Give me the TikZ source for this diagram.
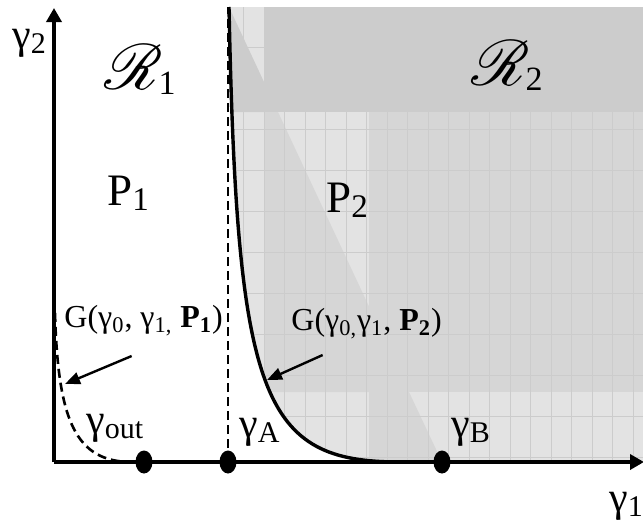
\documentclass[tikz,border=0pt]{standalone}
\usepackage{fontspec}
\setmainfont{Liberation Serif}
\usepackage{mathrsfs}
\usepackage{graphicx}
\usetikzlibrary{arrows.meta,shapes.geometric}
\definecolor{shadelight}{gray}{0.89}
\definecolor{shademid}{gray}{0.84}
\definecolor{shadetop}{gray}{0.80}
\definecolor{gridgray}{gray}{0.80}
\newcommand{\low}[2]{\raisebox{-2.5pt}{\fontsize{#1}{#1}\selectfont #2}}
\newcommand{\glab}[1]{{\fontsize{21}{24}\selectfont γ\low{15}{#1}}}
\newcommand{\plab}[1]{{\fontsize{22.5}{26}\selectfont P\low{16.5}{#1}}}
\newcommand{\rlab}[1]{\scalebox{3.2}{$\mathscr{R}$}\kern-2pt\low{17}{#1}}

\begin{document}
\begin{tikzpicture}[
  x=0.5pt,y=-0.5pt,
  axis/.style={line width=1.8pt,-{Triangle[length=7pt,width=7.5pt]}},
  bound/.style={line width=1.7pt},
  dashbound/.style={line width=1.3pt,dash pattern=on 4.5pt off 2.5pt},
  ann/.style={line width=1.2pt,-{Triangle[length=7.5pt,width=6pt]}},
  dot/.style={ellipse,fill=black,inner sep=0pt,minimum width=8.5pt,minimum height=11.5pt},
  gridline/.style={gridgray,line width=0.4pt},
  lab/.style={inner sep=0pt,anchor=base west},
  glabel/.style={lab,font=\fontsize{16}{19}\selectfont}
]
\useasboundingbox (0,0) rectangle (643,525);
% shaded region P2
\begin{scope}
\clip (229,7) .. controls (237,400) and (262,462) .. (400,462) -- (650,462) -- (650,7) -- cycle;
\fill[shadelight] (229,7) rectangle (650,462);
\fill[shademid] (369,112) rectangle (650,392);
\fill[shademid] (264,112) -- (278,112) -- (409,392) -- (264,392) -- cycle;
\fill[shademid] (369,392) -- (409,392) -- (442,462) -- (369,462) -- cycle;
\fill[shadetop] (264,7) rectangle (650,112);
\fill[shadetop] (229,7) -- (264,82) -- (264,112) -- (229,112) -- cycle;
\foreach \gx in {0,...,19}
  \draw[gridline] (243.5+20.5*\gx,7) -- ++(0,455);
\foreach \gy in {47,88,...,457}
  \draw[gridline] (229,\gy) -- (650,\gy);
\end{scope}

\coordinate (O) at (54,462);
\coordinate (ytop) at (54,8);
\coordinate (xend) at (644,462);
\coordinate (atop) at (228,7);
\coordinate (btop) at (229,7);
\coordinate (p1start) at (55,313);
\coordinate (p1end) at (132,462);
\coordinate (p2end) at (400,462);
\coordinate (tip1) at (65,384);
\coordinate (tip2) at (267,380);

\draw[dashbound] (p1start) .. controls (58,420) and (75,462) .. (p1end);
\draw[bound] (btop) .. controls (237,400) and (262,462) .. (p2end);
\draw[axis] (O) -- (ytop);
\draw[axis] (O) -- (xend);

\node[dot] (dout) at (144,462) {};
\node[dot] (da) at (228,462) {};
\node[dot] (db) at (442,462) {};
\draw[dashbound] (da.center) -- (atop);

\node[lab] (y2) at (12,48) {\glab{2}};
\node[lab] (y1) at (609,511) {\glab{1}};
\node[lab] (gout) at (86,433) {\glab{out}};
\node[lab] (ga) at (239,437) {\glab{A}};
\node[lab] (gb) at (451,437) {\glab{B}};
\node[lab] (pp1) at (107,205) {\plab{1}};
\node[lab] (pp2) at (326,212) {\plab{2}};
\node (r1) at (140,70) {\rlab{1}};
\node (r2) at (507,66) {\rlab{2}};
\node[glabel] (g1) at (64,327) {G(γ\textsubscript{0}, γ\textsubscript{1,} \textbf{P\textsubscript{1}})};
\node[glabel] (g2) at (291,330) {G(γ\textsubscript{0,}γ\textsubscript{1}, \textbf{P\textsubscript{2}})};
\draw[ann] ([shift={(-12,20)}]g1.south) -- (tip1);
\draw[ann] ([shift={(-44,16)}]g2.south) -- (tip2);
\end{tikzpicture}
\end{document}
